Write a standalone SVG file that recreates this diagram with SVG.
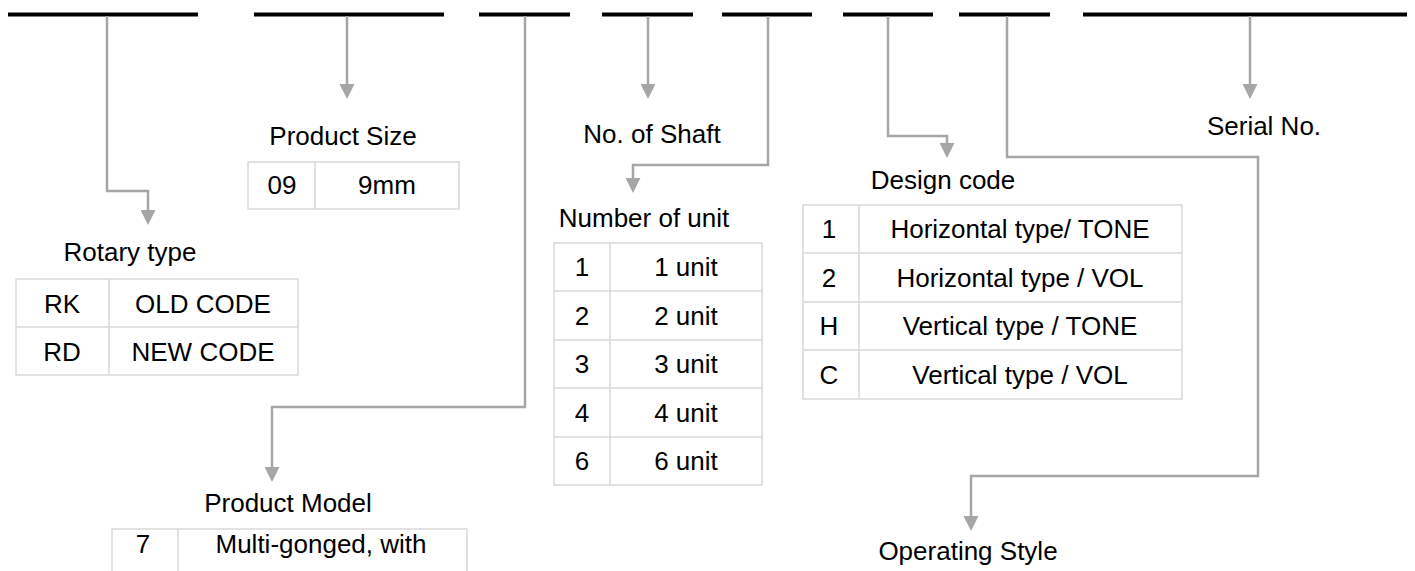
<svg xmlns="http://www.w3.org/2000/svg" width="1415" height="571" viewBox="0 0 1415 571">
<style>
text{font-family:"Liberation Sans",Arial,sans-serif;font-size:26px;fill:#000;text-anchor:middle}
.bar{stroke:#000;stroke-width:4;fill:none}
.conn{stroke:#a6a6a6;stroke-width:2.5;fill:none;marker-end:url(#ah)}
.tb{stroke:#d9d9d9;stroke-width:1.5;fill:none}
</style>
<defs>
<marker id="ah" markerUnits="userSpaceOnUse" markerWidth="16" markerHeight="15" refX="5" refY="7.5" orient="auto" viewBox="0 0 16 15">
<path d="M0,0 L15,7.5 L0,15 z" fill="#a6a6a6"/>
</marker>
</defs>
<rect width="1415" height="571" fill="#fff"/>
<g id="bars">
<line class="bar" x1="8" y1="14.5" x2="198" y2="14.5"/>
<line class="bar" x1="254" y1="14.5" x2="444" y2="14.5"/>
<line class="bar" x1="479" y1="14.5" x2="570" y2="14.5"/>
<line class="bar" x1="602" y1="14.5" x2="693" y2="14.5"/>
<line class="bar" x1="722" y1="14.5" x2="812" y2="14.5"/>
<line class="bar" x1="843" y1="14.5" x2="933" y2="14.5"/>
<line class="bar" x1="959" y1="14.5" x2="1050" y2="14.5"/>
<line class="bar" x1="1083" y1="14.5" x2="1407" y2="14.5"/>
</g>
<g id="connectors">
<path class="conn" d="M107,16 V191 H148 V215"/>
<path class="conn" d="M347,16 V89"/>
<path class="conn" d="M525,16 V407 H272 V472"/>
<path class="conn" d="M648,16 V89"/>
<path class="conn" d="M768,16 V165 H633 V183"/>
<path class="conn" d="M888,16 V136 H947 V148"/>
<path class="conn" d="M1007,16 V157 H1258 V476 H971 V521"/>
<path class="conn" d="M1250,16 V89"/>
</g>
<g id="rotary-type">
<text x="130" y="261">Rotary type</text>
<rect class="tb" x="16" y="279" width="282" height="96"/>
<line class="tb" x1="16" y1="327" x2="298" y2="327"/>
<line class="tb" x1="109" y1="279" x2="109" y2="375"/>
<text x="62" y="313">RK</text><text x="203" y="313">OLD CODE</text>
<text x="62" y="361">RD</text><text x="203" y="361">NEW CODE</text>
</g>
<g id="product-size">
<text x="343" y="145">Product Size</text>
<rect class="tb" x="248" y="162" width="211" height="47"/>
<line class="tb" x1="315" y1="162" x2="315" y2="209"/>
<text x="282" y="194">09</text><text x="387" y="194">9mm</text>
</g>
<g id="product-model">
<text x="288" y="512">Product Model</text>
<path class="tb" d="M112,580 V529 H467 V580 M178,529 V580"/>
<text x="143" y="553">7</text><text x="321" y="553">Multi-gonged, with</text>
</g>
<g id="no-of-shaft">
<text x="652" y="143">No. of Shaft</text>
</g>
<g id="number-of-unit">
<text x="644" y="227">Number of unit</text>
<rect class="tb" x="554" y="243" width="208" height="242"/>
<line class="tb" x1="554" y1="291" x2="762" y2="291"/>
<line class="tb" x1="554" y1="340" x2="762" y2="340"/>
<line class="tb" x1="554" y1="388" x2="762" y2="388"/>
<line class="tb" x1="554" y1="437" x2="762" y2="437"/>
<line class="tb" x1="610" y1="243" x2="610" y2="485"/>
<text x="582" y="276">1</text><text x="686" y="276">1 unit</text>
<text x="582" y="325">2</text><text x="686" y="325">2 unit</text>
<text x="582" y="373">3</text><text x="686" y="373">3 unit</text>
<text x="582" y="422">4</text><text x="686" y="422">4 unit</text>
<text x="582" y="470">6</text><text x="686" y="470">6 unit</text>
</g>
<g id="design-code">
<text x="943" y="189">Design code</text>
<rect class="tb" x="803" y="205" width="379" height="194"/>
<line class="tb" x1="803" y1="253" x2="1182" y2="253"/>
<line class="tb" x1="803" y1="302" x2="1182" y2="302"/>
<line class="tb" x1="803" y1="350" x2="1182" y2="350"/>
<line class="tb" x1="859" y1="205" x2="859" y2="399"/>
<text x="829" y="238">1</text><text x="1020" y="238">Horizontal type/ TONE</text>
<text x="829" y="287">2</text><text x="1020" y="287">Horizontal type / VOL</text>
<text x="829" y="335">H</text><text x="1020" y="335">Vertical type / TONE</text>
<text x="829" y="384">C</text><text x="1020" y="384">Vertical type / VOL</text>
</g>
<g id="serial-no">
<text x="1264" y="135">Serial No.</text>
</g>
<g id="operating-style">
<text x="968" y="560">Operating Style</text>
</g>
</svg>
